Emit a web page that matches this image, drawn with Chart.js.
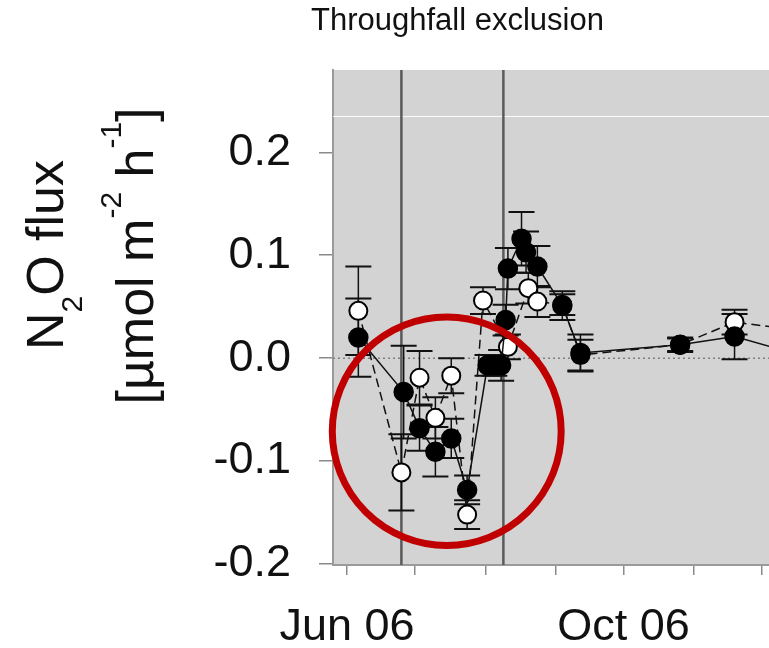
<!DOCTYPE html>
<html>
<head>
<meta charset="utf-8">
<script src="https://cdn.jsdelivr.net/npm/chart.js@4.4.1/dist/chart.umd.min.js"></script>
<style>
  html, body { margin: 0; padding: 0; background: #fff; }
</style>
</head>
<body>
<canvas id="fluxChart" width="769" height="648"></canvas>
<script>
// Chart text
const chartTitle = 'Throughfall exclusion';
const yTitleLine1 = [['N', ''], ['2', 'sub'], ['O flux', '']];
const yTitleLine2 = [['[µmol m', ''], ['-2', 'sup'], [' h', ''], ['-1', 'sup'], [']', '']];

// Axis ticks
const xTickDates = ['2006-06-01', '2006-07-01', '2006-08-01', '2006-09-01', '2006-10-01', '2006-11-01', '2006-12-01'];
const xTickLabels = ['Jun 06', '', '', '', 'Oct 06', '', ''];
const yTicks = [-0.2, -0.1, 0.0, 0.1, 0.2];

// Filled symbols
const filledDates = ['2006-06-06', '2006-06-26', '2006-07-03', '2006-07-10', '2006-07-17', '2006-07-24',
  '2006-08-02', '2006-08-05', '2006-08-08', '2006-08-10', '2006-08-11', '2006-08-17', '2006-08-19',
  '2006-08-24', '2006-09-04', '2006-09-12', '2006-10-26', '2006-11-19', '2006-12-10'];
const filledFlux = [0.020, -0.033, -0.068, -0.091, -0.078, -0.128,
  -0.007, -0.007, -0.007, 0.037, 0.087, 0.116, 0.103,
  0.089, 0.051, 0.005, 0.013, 0.021, 0.008];
const filledErr = [0.038, 0.045, 0.022, 0.024, 0.019, 0.014,
  0.010, 0.010, 0.015, 0.015, 0.020, 0.026, 0.020,
  0.020, 0.014, 0.018, 0.007, 0.022, 0.010];

// Open symbols
const openDates = ['2006-06-06', '2006-06-25', '2006-07-03', '2006-07-10', '2006-07-17', '2006-07-24',
  '2006-07-31', '2006-08-11', '2006-08-20', '2006-08-24', '2006-09-04', '2006-09-12',
  '2006-10-26', '2006-11-19', '2006-12-10'];
const openFlux = [0.046, -0.111, -0.019, -0.058, -0.017, -0.152,
  0.056, 0.011, 0.068, 0.055, 0.052, 0.003,
  0.013, 0.035, 0.029];
const openErr = [0.043, 0.037, 0.026, 0.020, 0.017, 0.014,
  0.013, 0.012, 0.015, 0.015, 0.010, 0.015,
  0.006, 0.012, 0.010];

// Treatment marks (vertical lines) and the highlighted window
const treatmentDates = ['2006-06-25', '2006-08-09'];
const highlightCenter = { date: '2006-07-15', flux: -0.071 };

const FONT = "'Liberation Sans', Arial, sans-serif";
const DAY = 86400000;
const origin = Date.UTC(2006, 5, 1);
const dayOf = (s) => {
  const [y, m, d] = s.split('-').map(Number);
  return (Date.UTC(y, m - 1, d) - origin) / DAY;
};
const toPoints = (dates, vals) => dates.map((d, i) => ({ x: dayOf(d), y: vals[i] }));

const plotDecor = {
  id: 'plotDecor',
  beforeDraw(chart) {
    const { ctx, chartArea: a } = chart;
    ctx.save();
    ctx.fillStyle = '#d3d3d3';
    ctx.fillRect(a.left, a.top, a.width, a.height);
    ctx.restore();
  },
  beforeDatasetsDraw(chart) {
    const { ctx, chartArea: a, scales: { x, y } } = chart;
    ctx.save();
    ctx.beginPath();
    ctx.rect(a.left, a.top, a.width, a.height);
    ctx.clip();

    // faint light streak across the top of the panel
    const yl = Math.round(y.getPixelForValue(0.235)) + 0.5;
    ctx.strokeStyle = 'rgba(255,255,255,0.9)';
    ctx.lineWidth = 1;
    ctx.beginPath(); ctx.moveTo(a.left, yl); ctx.lineTo(a.right, yl); ctx.stroke();

    // dotted zero line
    const y0 = y.getPixelForValue(0);
    ctx.strokeStyle = '#808080';
    ctx.lineWidth = 1.5;
    ctx.setLineDash([2, 3]);
    ctx.beginPath(); ctx.moveTo(a.left, y0); ctx.lineTo(a.right, y0); ctx.stroke();
    ctx.setLineDash([]);

    // treatment lines
    ctx.strokeStyle = '#5a5a5a';
    ctx.lineWidth = 2.5;
    treatmentDates.forEach((d) => {
      const px = x.getPixelForValue(dayOf(d));
      ctx.beginPath(); ctx.moveTo(px, a.top); ctx.lineTo(px, a.bottom); ctx.stroke();
    });

    // error bars
    ctx.strokeStyle = '#111';
    chart.data.datasets.forEach((ds) => {
      ds.data.forEach((p, i) => {
        const e = ds.errors[i];
        const px = x.getPixelForValue(p.x);
        const top = y.getPixelForValue(p.y + e);
        const bot = y.getPixelForValue(p.y - e);
        ctx.lineWidth = 1.5;
        ctx.beginPath(); ctx.moveTo(px, top); ctx.lineTo(px, bot); ctx.stroke();
        ctx.lineWidth = 2;
        ctx.beginPath();
        ctx.moveTo(px - 13, top); ctx.lineTo(px + 13, top);
        ctx.moveTo(px - 13, bot); ctx.lineTo(px + 13, bot);
        ctx.stroke();
      });
    });
    ctx.restore();
  },
  afterDatasetsDraw(chart) {
    const { ctx, scales: { x, y } } = chart;
    const cx = x.getPixelForValue(dayOf(highlightCenter.date));
    const cy = y.getPixelForValue(highlightCenter.flux);
    const rx = x.getPixelForValue(dayOf(highlightCenter.date) + 50.5) - cx;
    const ry = y.getPixelForValue(highlightCenter.flux - 0.111) - cy;
    ctx.save();
    ctx.strokeStyle = '#c00000';
    ctx.lineWidth = 7;
    ctx.beginPath();
    ctx.ellipse(cx, cy, rx, ry, 0, 0, Math.PI * 2);
    ctx.stroke();
    ctx.restore();
  },
  afterDraw(chart) {
    const { ctx } = chart;
    const size = 52, small = 30;
    const drawLine = (parts, baseX, centerY) => {
      ctx.save();
      ctx.translate(baseX, centerY);
      ctx.rotate(-Math.PI / 2);
      ctx.fillStyle = '#111';
      ctx.textBaseline = 'alphabetic';
      ctx.textAlign = 'left';
      const widths = parts.map(([t, k]) => {
        ctx.font = `${k ? small : size}px ${FONT}`;
        return ctx.measureText(t).width;
      });
      let lx = -widths.reduce((s, w) => s + w, 0) / 2;
      parts.forEach(([t, k], i) => {
        ctx.font = `${k ? small : size}px ${FONT}`;
        const dy = k === 'sub' ? 19 : k === 'sup' ? -32 : 0;
        ctx.fillText(t, lx, dy);
        lx += widths[i];
      });
      ctx.restore();
    };
    drawLine(yTitleLine1, 63, 255);
    drawLine(yTitleLine2, 153, 256);
  }
};

new Chart(document.getElementById('fluxChart'), {
  type: 'line',
  data: {
    datasets: [
      {
        label: 'filled',
        data: toPoints(filledDates, filledFlux),
        errors: filledErr,
        borderColor: '#111',
        borderWidth: 1.5,
        pointRadius: 9.5,
        pointBorderWidth: 1.5,
        pointBackgroundColor: '#000',
        pointBorderColor: '#000',
        tension: 0
      },
      {
        label: 'open',
        data: toPoints(openDates, openFlux),
        errors: openErr,
        borderColor: '#111',
        borderWidth: 1.5,
        borderDash: [9, 5],
        pointRadius: 9,
        pointBorderWidth: 2,
        pointBackgroundColor: '#fff',
        pointBorderColor: '#000',
        tension: 0
      }
    ]
  },
  options: {
    responsive: false,
    animation: false,
    events: [],
    layout: { autoPadding: false, padding: { left: 146, right: 0, top: 0, bottom: 0 } },
    plugins: {
      legend: { display: false },
      tooltip: { enabled: false },
      title: {
        display: true,
        text: chartTitle,
        color: '#111',
        font: { family: FONT, size: 31, weight: 'normal' },
        padding: { top: 3, bottom: 29.8 }
      }
    },
    scales: {
      x: {
        type: 'linear',
        min: -6.18,
        max: 186.2,
        afterBuildTicks: (s) => { s.ticks = xTickDates.map((d) => ({ value: dayOf(d) })); },
        afterFit: (s) => { s.height = 83; s.paddingLeft = 0; s.paddingRight = 0; },
        ticks: {
          autoSkip: false,
          maxRotation: 0,
          padding: 26,
          color: '#111',
          font: { family: FONT, size: 45 },
          callback: (v, i) => xTickLabels[i]
        },
        grid: { drawOnChartArea: false, tickLength: 10, color: '#8a8a8a', lineWidth: 1.5 },
        border: { color: '#9a9a9a', width: 2 }
      },
      y: {
        min: -0.201,
        max: 0.28,
        afterBuildTicks: (s) => { s.ticks = yTicks.map((v) => ({ value: v })); },
        afterFit: (s) => { s.width = 187; s.paddingTop = 0; s.paddingBottom = 0; },
        ticks: {
          padding: 28,
          color: '#111',
          font: { family: FONT, size: 45 },
          callback: (v) => v.toFixed(1)
        },
        grid: { drawOnChartArea: false, tickLength: 14, color: '#8a8a8a', lineWidth: 1.5 },
        border: { color: '#9a9a9a', width: 2 }
      }
    }
  },
  plugins: [plotDecor]
});
</script>
</body>
</html>
